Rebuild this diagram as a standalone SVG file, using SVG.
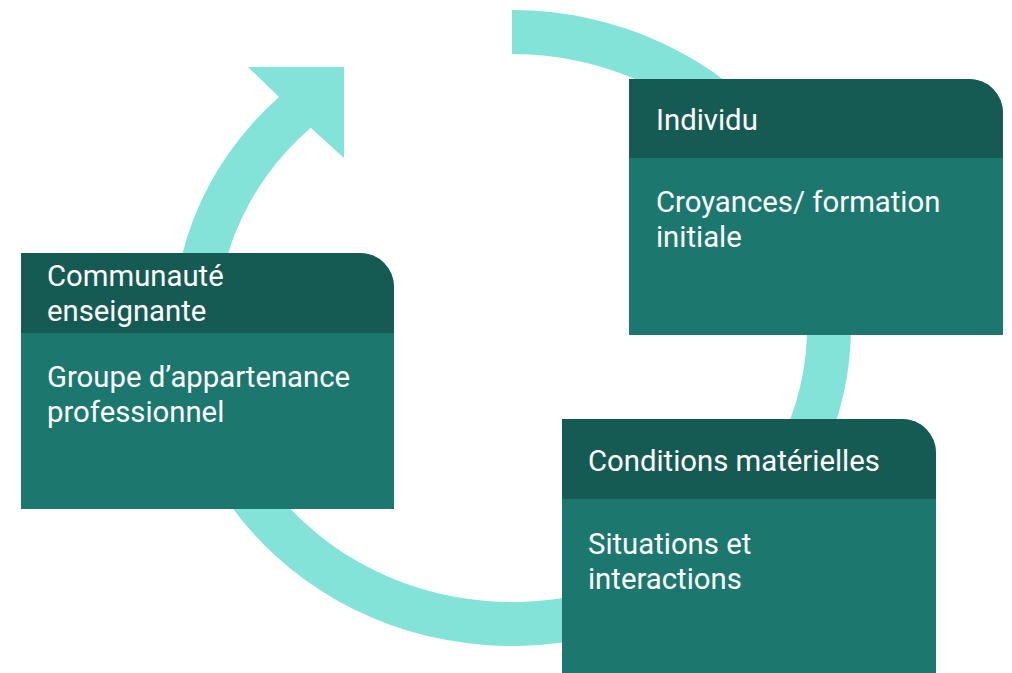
<svg xmlns="http://www.w3.org/2000/svg" width="1012" height="673" viewBox="0 0 1012 673">
  <style>
    .ring { fill: #84E3D8; }
    .head { fill: #165B53; }
    .body { fill: #1C786E; }
    .t { font-family: Roboto, "Liberation Sans", sans-serif; font-size: 29.3px; fill: #FFFFFF; }
  </style>
  <rect width="1012" height="673" fill="#FFFFFF"/>
  <g id="connectors">
    <path class="ring" d="M512 10 A339 318 0 1 1 279 97 L248 67 L344 67 L344 158 L310.7 127.7 A295 274 0 1 0 512 54 Z"/>
  </g>
  <g id="node-individu">
    <path class="body" d="M629 79 H969 A34 34 0 0 1 1003 113 V335 H629 Z"/>
    <path class="head" d="M629 79 H969 A34 34 0 0 1 1003 113 V158 H629 Z"/>
    <text class="t" x="656" y="130">Individu</text>
    <text class="t" x="656" y="211.5">Croyances/ formation</text>
    <text class="t" x="656" y="246.5">initiale</text>
  </g>
  <g id="node-communaute">
    <path class="body" d="M21 253 H360 A34 34 0 0 1 394 287 V509 H21 Z"/>
    <path class="head" d="M21 253 H360 A34 34 0 0 1 394 287 V333 H21 Z"/>
    <text class="t" x="47" y="285.5">Communauté</text>
    <text class="t" x="47" y="321">enseignante</text>
    <text class="t" x="47" y="386.5">Groupe d’appartenance</text>
    <text class="t" x="47" y="421.5">professionnel</text>
  </g>
  <g id="node-conditions">
    <path class="body" d="M562 419 H902 A34 34 0 0 1 936 453 V675 H562 Z"/>
    <path class="head" d="M562 419 H902 A34 34 0 0 1 936 453 V499 H562 Z"/>
    <text class="t" x="588" y="470.5">Conditions matérielles</text>
    <text class="t" x="588" y="553.5">Situations et</text>
    <text class="t" x="588" y="588.5">interactions</text>
  </g>
</svg>
